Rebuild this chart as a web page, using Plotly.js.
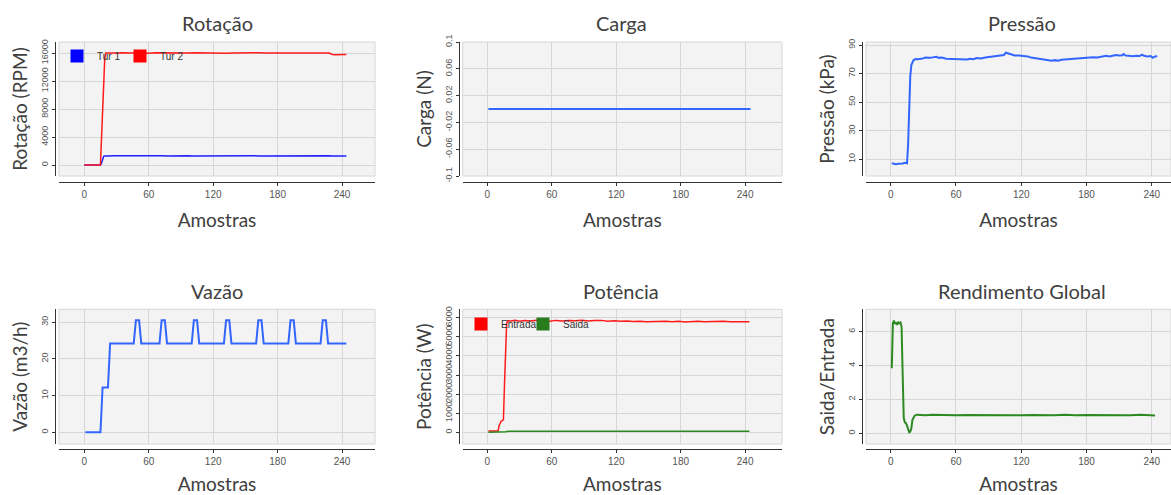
<!DOCTYPE html>
<html>
<head>
<meta charset="utf-8">
<script src="https://cdn.plot.ly/plotly-3.0.1.min.js"></script>
<style>html,body{margin:0;padding:0;background:#fff;}#chart{width:1171px;height:495px;}</style>
</head>
<body>
<div id="chart"></div>
<script>
// ---------- DATA ----------
const rotX = [0,5,10,15,16,17,18,19,20,23,27,31,35,40,45,50,55,60,66,72,78,84,90,96,102,108,114,120,126,132,138,144,150,156,162,168,174,180,186,192,198,204,210,216,222,228,231,234,238,241,244];
const tur1 = [0,0,0,0,300,900,1250,1300,1320,1300,1330,1310,1340,1300,1320,1310,1330,1300,1320,1310,1300,1330,1310,1320,1300,1310,1330,1300,1320,1310,1300,1320,1310,1330,1300,1310,1320,1300,1330,1310,1300,1320,1310,1300,1320,1310,1300,1320,1290,1310,1300];
const tur2 = [0,0,0,0,3800,7800,11800,15200,16000,15980,16020,15990,16030,15990,16010,16040,16000,15980,16020,16000,16030,15990,16010,16000,16040,16010,15990,16020,16000,15980,16010,16030,15990,16000,16020,15990,16010,16040,16000,15980,16010,16000,16030,15990,16010,16000,15780,15760,15790,15750,15770];

const cargaX = [1,60,120,180,245];
const carga = [0,0,0,0,0];

const presX = [1,3,5,7,9,11,13,15,16,17,18,19,20,21,23,25,28,32,36,40,42,44,47,51,55,60,65,70,73,76,79,83,87,91,95,98,101,104,106,108,111,114,118,122,126,129,132,136,140,145,148,151,154,157,160,163,167,172,177,182,186,190,194,198,201,204,207,210,213,214,216,219,222,226,229,231,233,236,239,241,243,245];
const pressao = [7.2,6.8,6.5,6.9,6.7,7.0,7.5,7.2,20,45,68,76,78.5,79.5,80.2,80.0,80.3,81.2,81.0,81.4,81.8,81.0,81.3,80.4,80.2,80.0,79.7,79.8,80.3,80.0,80.9,80.5,81.2,81.5,82.0,82.4,82.6,83.0,84.6,84.0,83.0,82.6,82.7,82.4,82.0,81.2,80.8,80.2,79.8,79.3,79.0,79.4,79.0,79.6,79.8,80.2,80.3,80.6,80.8,81.0,81.4,81.2,81.8,82.4,82.0,82.5,83.0,82.6,82.8,83.6,82.6,82.4,82.2,82.5,82.3,83.2,82.4,82.0,82.3,81.0,82.0,82.2];

const vazX = [1,15,16,17,22,23,24,
  46,47,48,51,52,53,
  70,71,72,75,76,77,
  100,101,102,105,106,107,
  130,131,132,135,136,137,
  160,161,162,165,166,167,
  190,191,192,195,196,197,
  220,221,222,225,226,227,
  244];
const vazao = [0,0,6,12.2,12.2,18,24.2,
  24.2,27.5,30.5,30.5,27.5,24.2,
  24.2,27.5,30.5,30.5,27.5,24.2,
  24.2,27.5,30.5,30.5,27.5,24.2,
  24.2,27.5,30.5,30.5,27.5,24.2,
  24.2,27.5,30.5,30.5,27.5,24.2,
  24.2,27.5,30.5,30.5,27.5,24.2,
  24.2,27.5,30.5,30.5,27.5,24.2,
  24.2];

const potX = [1,5,10,11,12,13,14,15,16,17,18,19,22,26,30,35,40,46,52,58,64,70,76,82,88,94,100,106,112,118,124,130,136,142,148,154,160,166,172,178,184,190,196,202,208,214,220,226,232,238,244];
const entrada = [70,70,70,350,520,600,610,650,2500,4200,5700,5840,5830,5860,5820,5850,5830,5870,5840,5820,5860,5830,5850,5840,5870,5830,5850,5860,5820,5840,5810,5830,5800,5820,5790,5810,5800,5820,5790,5810,5780,5800,5810,5790,5800,5780,5810,5790,5800,5780,5790];
const saida = [5,5,5,5,5,5,5,8,15,30,45,55,58,56,60,57,59,58,60,57,59,58,60,58,57,59,60,58,57,59,58,60,57,59,58,57,59,58,60,57,58,59,57,60,58,57,59,58,57,59,58];

const rendX = [1,2,3,4,5,6,7,8,9,10,11,12,13,14,15,16,17,18,19,20,21,22,24,27,32,38,45,52,60,70,80,90,100,110,120,130,140,150,160,170,180,190,200,210,220,230,238,243];
const rendimento = [3.84,6.5,6.65,6.45,6.55,6.4,6.55,6.5,6.55,6.3,3.5,0.9,0.65,0.6,0.45,0.2,0.06,0.1,0.3,0.8,0.97,1.04,1.1,1.08,1.06,1.09,1.07,1.08,1.06,1.08,1.07,1.09,1.06,1.08,1.07,1.08,1.06,1.07,1.09,1.06,1.08,1.07,1.06,1.08,1.07,1.09,1.06,1.05];

const titles = ['Rotação','Carga','Pressão','Vazão','Potência','Rendimento Global'];
const yTitles = ['Rotação (RPM)','Carga (N)','Pressão (kPa)','Vazão (m3/h)','Potência (W)','Saida/Entrada'];
const xTitle = 'Amostras';
const xTicks = [0,60,120,180,240];
const rotTicks = [0,4000,8000,12000,16000];
const rotTickText = ['0','4000','8000','12000','16000'];
const cargaTicks = [-0.1,-0.06,-0.02,0.02,0.06,0.1];
const cargaTickText = ['-0.1','-0.06','-0.02','0.02','0.06','0.1'];
const presTicks = [10,30,50,70,90];
const vazTicks = [0,10,20,30];
const potTicks = [0,1000,2000,3000,4000,5000,6000];
const potTickText = ['0','1000','2000','3000','4000','5000','6000'];
const rendTicks = [0,2,4,6];

// ---------- LAYOUT HELPERS ----------
const W = 1171, H = 495;
const px = v => v / W;
const py = v => 1 - v / H;

const BLUE = '#3366ff', RED = '#ff1a1a', GREEN = '#2d8a22', DBLUE = '#1f1fff';
const tickFont = {family: 'Liberation Sans, Arial, sans-serif', size: 10, color: '#555'};
const titleFont = {family: 'Lato, Open Sans, sans-serif', size: 20, color: '#404040'};
const axTitleFont = {family: 'Lato, Open Sans, sans-serif', size: 19, color: '#404040'};

function xAx(dom, rng, pos) {
  return {
    domain: dom, range: rng, anchor: 'free', position: pos,
    tickvals: xTicks, ticks: 'outside', ticklen: 3, tickcolor: '#333',
    showline: true, linecolor: '#333', linewidth: 1,
    showgrid: true, gridcolor: '#d6d6d6', gridwidth: 1, zeroline: false,
    tickfont: tickFont, title: {text: xTitle, font: axTitleFont, standoff: 14},
    fixedrange: true
  };
}
function yAx(dom, rng, pos, tv, tt, title) {
  const a = {
    domain: dom, range: rng, anchor: 'free', position: pos,
    tickvals: tv, tickangle: -90, ticks: 'outside', ticklen: 3, tickcolor: '#333',
    showline: true, linecolor: '#333', linewidth: 1,
    showgrid: true, gridcolor: '#d6d6d6', gridwidth: 1, zeroline: false,
    exponentformat: 'none',
    tickfont: {family: 'Liberation Sans, Arial, sans-serif', size: 9, color: '#555'},
    title: {text: title, font: axTitleFont, standoff: 6},
    fixedrange: true
  };
  if (tt) a.ticktext = tt;
  return a;
}

const col = [[px(59), px(375)], [px(462.7), px(782)], [px(866), 1]];
const row = [[py(176), py(42)], [py(444), py(309.3)]];
const xPos = [py(182), py(449)];
const yPos = [px(55), px(458.5), px(861.7)];
const xr = [[-23.6, 270.7], [-22.9, 274.3], [-22.7, 257.7]];

const legendFont = {family: 'Liberation Sans, Arial, sans-serif', size: 10, color: '#333'};
const legendBox = (x, y) => ({
  x: px(x), y: py(y), xanchor: 'left', yanchor: 'middle', orientation: 'h',
  bgcolor: 'rgba(0,0,0,0)', font: legendFont
});

const layout = {
  width: W, height: H,
  margin: {l: 0, r: 0, t: 0, b: 0},
  paper_bgcolor: '#ffffff', plot_bgcolor: '#f3f3f3',
  showlegend: true,
  xaxis:  xAx(col[0], xr[0], xPos[0]),
  xaxis2: xAx(col[1], xr[1], xPos[0]),
  xaxis3: xAx(col[2], xr[2], xPos[0]),
  xaxis4: xAx(col[0], xr[0], xPos[1]),
  xaxis5: xAx(col[1], xr[1], xPos[1]),
  xaxis6: xAx(col[2], xr[2], xPos[1]),
  yaxis:  yAx(row[0], [-1571, 17571], yPos[0], rotTicks, rotTickText, yTitles[0]),
  yaxis2: yAx(row[0], [-0.1, 0.1], yPos[1], cargaTicks, cargaTickText, yTitles[1]),
  yaxis3: yAx(row[0], [-1.7, 92.1], yPos[2], presTicks, null, yTitles[2]),
  yaxis4: yAx(row[1], [-3.2, 33.5], yPos[0], vazTicks, null, yTitles[3]),
  yaxis5: yAx(row[1], [-612, 6440], yPos[1], potTicks, potTickText, yTitles[4]),
  yaxis6: yAx(row[1], [-0.63, 7.32], yPos[2], rendTicks, null, yTitles[5]),
  legend:  legendBox(57, 56),
  legend2: legendBox(120, 56),
  legend3: legendBox(461, 324),
  legend4: legendBox(523, 324),
  annotations: [],
  shapes: []
};

const titleX = [217, 621, 1022];
const titleY = [23, 291];
titles.forEach((t, i) => {
  layout.annotations.push({
    text: t, xref: 'paper', yref: 'paper',
    x: px(titleX[i % 3]), y: py(titleY[Math.floor(i / 3)]),
    xanchor: 'center', yanchor: 'middle', showarrow: false, font: titleFont
  });
});
['', '2', '3', '4', '5', '6'].forEach(s => {
  layout.shapes.push({
    type: 'rect', xref: 'x' + s + ' domain', yref: 'y' + s + ' domain',
    x0: 0, x1: 1, y0: 0, y1: 1, line: {color: '#d6d6d6', width: 1}, layer: 'below'
  });
});

// ---------- TRACES ----------
const line = (x, y, xa, ya, color, w, name) => ({
  type: 'scatter', mode: 'lines', x: x, y: y, xaxis: xa, yaxis: ya,
  line: {color: color, width: w}, name: name, showlegend: false, hoverinfo: 'skip'
});
const legendProxy = (name, color, xa, ya, lg) => ({
  type: 'scatter', mode: 'markers', x: [null], y: [null], xaxis: xa, yaxis: ya,
  marker: {symbol: 'square', size: 13, color: color}, name: name,
  showlegend: true, legend: lg, hoverinfo: 'skip'
});

const data = [
  line(rotX, tur1, 'x', 'y', DBLUE, 1.5, 'Tur 1'),
  line(rotX, tur2, 'x', 'y', RED, 1.5, 'Tur 2'),
  legendProxy('Tur 1', '#0000ff', 'x', 'y', 'legend'),
  legendProxy('Tur 2', '#ff0000', 'x', 'y', 'legend2'),
  line(cargaX, carga, 'x2', 'y2', BLUE, 1.8, 'Carga'),
  line(presX, pressao, 'x3', 'y3', BLUE, 2, 'Pressão'),
  line(vazX, vazao, 'x4', 'y4', BLUE, 2, 'Vazão'),
  line(potX, entrada, 'x5', 'y5', RED, 1.5, 'Entrada'),
  line(potX, saida, 'x5', 'y5', GREEN, 1.5, 'Saida'),
  legendProxy('Entrada', '#ff0000', 'x5', 'y5', 'legend3'),
  legendProxy('Saida', '#2a7d1c', 'x5', 'y5', 'legend4'),
  line(rendX, rendimento, 'x6', 'y6', GREEN, 2, 'Rendimento')
];

Plotly.newPlot('chart', data, layout, {staticPlot: true, displayModeBar: false});
</script>
</body>
</html>
